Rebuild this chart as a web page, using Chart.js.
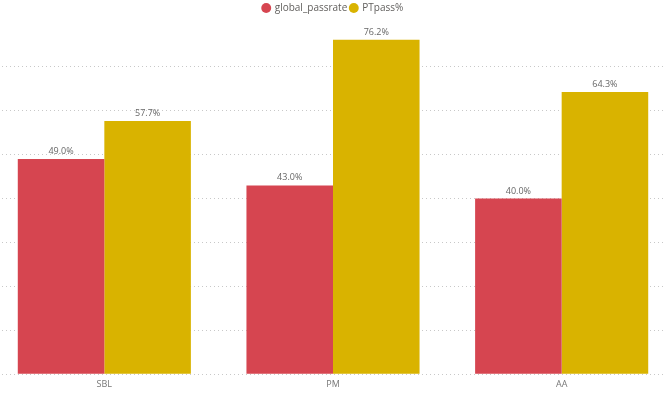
<!DOCTYPE html>
<html lang="en">
<head>
  <meta charset="UTF-8">
  <title>Pass rate chart</title>
  <script src="https://cdn.jsdelivr.net/npm/chart.js"></script>
  <style>
    html, body { margin: 0; padding: 0; background: #fff; overflow: hidden; }
    .wrap { position: absolute; left: -10px; top: 0; width: 686px; height: 396px; }
  </style>
</head>
<body>
  <div class="wrap">
    <canvas id="passChart"></canvas>
  </div>

  <script>
    const categories = ['SBL', 'PM', 'AA'];
    const globalPassrate = [49.0, 43.0, 40.0];
    const ptPass = [57.7, 76.2, 64.3];
    const yTicks = [0, 10, 20, 30, 40, 50, 60, 70, 80];

    // draws the value above each bar
    const valueLabels = {
      id: 'valueLabels',
      afterDatasetsDraw(chart) {
        const ctx = chart.ctx;
        ctx.save();
        ctx.font = '9px "Segoe UI", "Open Sans", sans-serif';
        ctx.fillStyle = '#666666';
        ctx.textAlign = 'center';
        ctx.textBaseline = 'bottom';
        chart.data.datasets.forEach((ds, i) => {
          chart.getDatasetMeta(i).data.forEach((bar, j) => {
            ctx.fillText(ds.data[j].toFixed(1) + '%', bar.x, bar.y - 3);
          });
        });
        ctx.restore();
      }
    };

    new Chart(document.getElementById('passChart'), {
      type: 'bar',
      data: {
        labels: categories,
        datasets: [
          {
            label: 'global_passrate',
            data: globalPassrate,
            backgroundColor: '#D64550',
            categoryPercentage: 0.757,
            barPercentage: 1.0
          },
          {
            label: 'PTpass%',
            data: ptPass,
            backgroundColor: '#D9B300',
            categoryPercentage: 0.757,
            barPercentage: 1.0
          }
        ]
      },
      options: {
        responsive: true,
        maintainAspectRatio: false,
        animation: false,
        layout: { padding: { top: 0, bottom: 1, left: 0, right: 0 } },
        plugins: {
          tooltip: { enabled: false },
          legend: {
            position: 'top',
            labels: {
              usePointStyle: true,
              pointStyle: 'circle',
              boxWidth: 7,
              boxHeight: 7,
              padding: 3,
              color: '#605E5C',
              font: { family: '"Segoe UI", "Open Sans", sans-serif', size: 10 }
            }
          }
        },
        scales: {
          x: {
            grid: { display: false, drawTicks: false },
            border: { display: false },
            ticks: {
              color: '#777777',
              padding: 5,
              font: { family: '"Segoe UI", "Open Sans", sans-serif', size: 9 }
            }
          },
          y: {
            min: 0,
            max: 80,
            afterBuildTicks(axis) { axis.ticks = yTicks.map(v => ({ value: v })); },
            ticks: { display: false },
            grid: {
              drawTicks: false,
              color: ctx => (ctx.tick && ctx.tick.value === 80) ? 'rgba(0,0,0,0)' : '#C8C8C8',
              lineWidth: 1
            },
            border: { display: false, dash: [1, 3] }
          }
        }
      },
      plugins: [valueLabels]
    });
  </script>
</body>
</html>
